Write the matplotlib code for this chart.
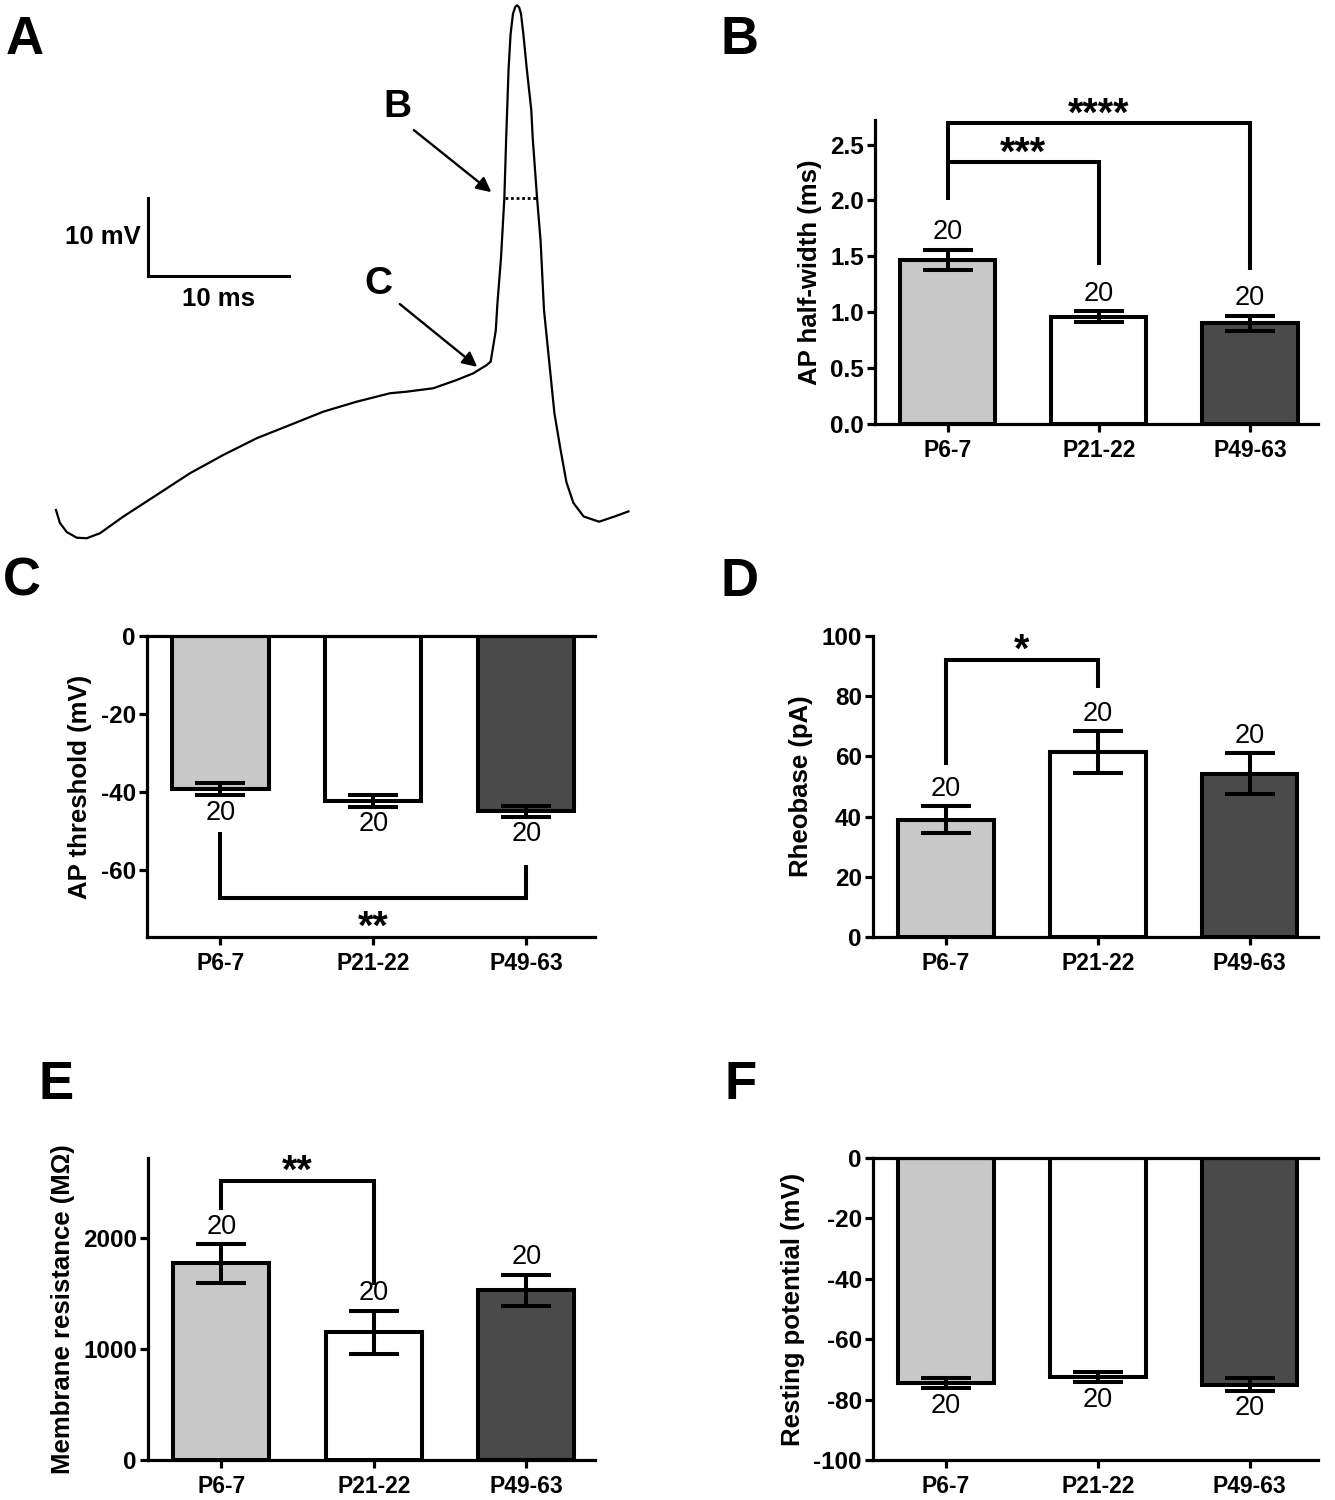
#!/usr/bin/env python3
"""Six-panel figure: example AP trace plus five group bar charts (mean +/- SEM, n=20)."""
import matplotlib

matplotlib.use("Agg")
import matplotlib.pyplot as plt  # noqa: E402

plt.rcParams["font.family"] = ["Liberation Sans", "DejaVu Sans"]

W, H = 1335, 1500
GROUPS = ["P6-7", "P21-22", "P49-63"]
N_CELLS = [20, 20, 20]
FILLS = ["#c8c8c8", "#ffffff", "#4a4a4a"]

# panel A: example trace (time in ms, voltage in mV above trough)
TRACE_T = [0.07, 0.35, 0.83, 1.54, 2.25, 3.19, 4.84, 7.21, 9.57, 11.94, 14.30, 16.67,
           19.03, 21.40, 23.76, 24.94, 26.83, 28.49, 29.67, 30.62, 30.90, 31.26, 31.38,
           31.63, 31.87, 32.00, 32.17, 32.31, 32.48, 32.65, 32.78, 32.92, 33.05, 33.22,
           33.46, 33.78, 33.88, 34.19, 34.44, 34.68, 35.05, 35.42, 35.83, 36.27, 36.76,
           37.49, 38.59, 39.69, 40.67]
TRACE_V = [3.97, 2.31, 1.15, 0.42, 0.35, 0.99, 3.12, 5.90, 8.68, 11.03, 13.17, 14.87,
           16.58, 17.86, 18.94, 19.14, 19.58, 20.64, 21.50, 22.56, 23.00, 26.97, 30.51,
           36.24, 43.97, 51.71, 60.53, 64.95, 67.59, 68.50, 68.69, 68.40, 67.59, 64.95,
           60.53, 55.23, 51.71, 43.97, 38.46, 29.63, 23.00, 16.38, 11.96, 7.55, 4.90,
           3.14, 2.47, 3.14, 3.79]
HALF_WIDTH_V = 43.97
HALF_WIDTH_T = [31.95, 34.15]

# panels B-F: mean and SEM per group
HALFWIDTH_MEAN = [1.47, 0.96, 0.90]
HALFWIDTH_SEM = [0.09, 0.05, 0.07]
THRESH_MEAN = [-39.3, -42.3, -45.0]
THRESH_SEM = [1.6, 1.5, 1.3]
RHEO_MEAN = [39.0, 61.5, 54.3]
RHEO_SEM = [4.5, 7.0, 6.8]
RM_MEAN = [1770, 1150, 1530]
RM_SEM = [175, 195, 140]
VREST_MEAN = [-74.5, -72.5, -75.0]
VREST_SEM = [1.8, 1.8, 2.1]

# significance brackets: (group i, group j, bracket y, left leg end, right leg end, label)
HALFWIDTH_SIG = [(0, 1, 2.34, 2.0, 1.42, "***"), (0, 2, 2.69, 2.34, 1.38, "****")]
THRESH_SIG = [(0, 2, -67.2, -50.3, -58.7, "**")]
RHEO_SIG = [(0, 1, 92.0, 57.0, 82.7, "*")]
RM_SIG = [(0, 1, 2513, 2250, 1580, "**")]

LW = 2.9      # bars, error bars, brackets
SPINE_LW = 2.3
XTICK_FS = 16.5
YTICK_FS = 17.5
LABEL_FS = 18.5
N_FS = 19.5
STAR_FS = 28.5


def px_axes(fig, x0, y0, x1, y1):
    return fig.add_axes([x0 / W, 1 - y1 / H, (x1 - x0) / W, (y1 - y0) / H])


def bar_panel(ax, means, sems, ylim, yticks, ylabel, negative=False, sig=(), fmt="{:g}"):
    x = range(len(GROUPS))
    ax.bar(x, means, width=0.63, color=FILLS, edgecolor="black", linewidth=LW, zorder=2)
    ax.errorbar(x, means, yerr=sems, fmt="none", ecolor="black", elinewidth=LW,
                capsize=18, capthick=LW, zorder=3)
    for i, (m, s) in enumerate(zip(means, sems)):
        if negative:
            ax.annotate(str(N_CELLS[i]), (i, m - s), xytext=(0, -3), textcoords="offset points",
                        ha="center", va="top", fontsize=N_FS)
        else:
            ax.annotate(str(N_CELLS[i]), (i, m + s), xytext=(0, 3), textcoords="offset points",
                        ha="center", va="bottom", fontsize=N_FS)
    for i, j, y, yl, yr, lab in sig:
        ax.plot([i, i, j, j], [yl, y, y, yr], color="black", lw=LW,
                solid_joinstyle="miter", solid_capstyle="butt", clip_on=False, zorder=4)
        off = -29 if negative else -1.5
        ax.annotate(lab, ((i + j) / 2, y), xytext=(0, off), textcoords="offset points",
                    ha="center", va="baseline", fontsize=STAR_FS, fontweight="bold",
                    annotation_clip=False)
    ax.set_xlim(-0.48, 2.45)
    ax.set_ylim(*ylim)
    ax.set_yticks(yticks)
    ax.set_yticklabels([fmt.format(t) for t in yticks])
    ax.set_xticks(list(x))
    ax.set_xticklabels(GROUPS)
    for lab in ax.get_xticklabels():
        lab.set_fontweight("bold")
        lab.set_fontsize(XTICK_FS)
    for lab in ax.get_yticklabels():
        lab.set_fontweight("bold")
        lab.set_fontsize(YTICK_FS)
    ax.tick_params(axis="both", length=6, width=SPINE_LW)
    ax.tick_params(axis="x", pad=4.5)
    ax.tick_params(axis="y", pad=2)
    ax.set_ylabel(ylabel, fontsize=LABEL_FS, fontweight="bold", labelpad=6)
    ax.spines["right"].set_visible(False)
    ax.spines["top"].set_visible(negative)
    for sp in ax.spines.values():
        sp.set_linewidth(SPINE_LW)


def main():
    fig = plt.figure(figsize=(W / 100, H / 100), dpi=100)

    # ---- panel A: trace (axes spans pixel box 0..640 x 0..560)
    axa = fig.add_axes([0, 1 - 560 / H, 640 / W, 560 / H])
    axa.plot(TRACE_T, TRACE_V, color="black", lw=1.6, solid_joinstyle="round")
    axa.plot(HALF_WIDTH_T, [HALF_WIDTH_V] * 2, color="black", lw=2.0, ls=(0, (1, 1)))
    axa.plot([6.6, 6.6, 16.6], [44.0, 34.0, 34.0], color="black", lw=2.2,
             solid_joinstyle="miter")
    axa.text(6.1, 39.0, "10 mV", ha="right", va="center", fontsize=18.5, fontweight="bold")
    axa.text(11.6, 32.6, "10 ms", ha="center", va="top", fontsize=18.5, fontweight="bold")
    arrow = dict(arrowstyle="-|>", color="black", lw=1.7, mutation_scale=22)
    axa.annotate("", xy=(31.1, 44.5), xytext=(25.3, 52.9), arrowprops=arrow)
    axa.annotate("", xy=(30.1, 22.1), xytext=(24.3, 30.6), arrowprops=arrow)
    axa.text(24.3, 55.7, "B", ha="center", va="center", fontsize=28, fontweight="bold")
    axa.text(22.9, 33.0, "C", ha="center", va="center", fontsize=28, fontweight="bold")
    axa.set_xlim(-3.9, 41.49)
    axa.set_ylim(-2.44, 69.36)
    axa.axis("off")

    # ---- panel B
    axb = px_axes(fig, 875, 120, 1318, 424)
    bar_panel(axb, HALFWIDTH_MEAN, HALFWIDTH_SEM, (0, 2.72), [0, 0.5, 1.0, 1.5, 2.0, 2.5],
              "AP half-width (ms)", sig=HALFWIDTH_SIG, fmt="{:.1f}")

    # ---- panel C
    axc = px_axes(fig, 147, 636, 595, 937)
    bar_panel(axc, THRESH_MEAN, THRESH_SEM, (-77.2, 0), [-60, -40, -20, 0],
              "AP threshold (mV)", negative=True, sig=THRESH_SIG)

    # ---- panel D
    axd = px_axes(fig, 873, 636, 1318, 937)
    bar_panel(axd, RHEO_MEAN, RHEO_SEM, (0, 100), [0, 20, 40, 60, 80, 100],
              "Rheobase (pA)", sig=RHEO_SIG)

    # ---- panel E
    axe = px_axes(fig, 148, 1158, 595, 1460)
    bar_panel(axe, RM_MEAN, RM_SEM, (0, 2720), [0, 1000, 2000],
              "Membrane resistance (M\u03a9)", sig=RM_SIG)

    # ---- panel F
    axf = px_axes(fig, 873, 1158, 1318, 1460)
    bar_panel(axf, VREST_MEAN, VREST_SEM, (-100, 0), [-100, -80, -60, -40, -20, 0],
              "Resting potential (mV)", negative=True)

    for letter, x, y in [("A", 6, 15), ("B", 720, 15), ("C", 3, 557), ("D", 720, 557),
                         ("E", 38, 1060), ("F", 724, 1060)]:
        fig.text(x / W, 1 - y / H, letter, ha="left", va="top", fontsize=38,
                 fontweight="bold")

    fig.savefig("out.png", dpi=100)
    plt.close(fig)


if __name__ == "__main__":
    main()
